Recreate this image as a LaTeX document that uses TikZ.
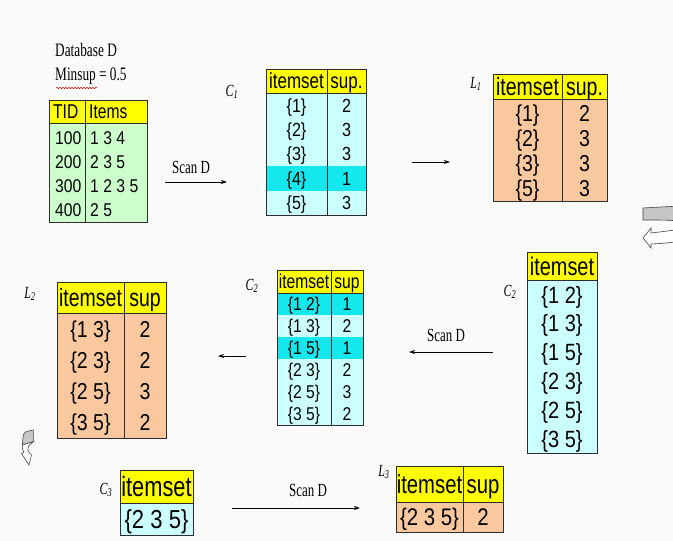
\documentclass[tikz,border=0pt]{standalone}
\usepackage{fontspec}
\setmainfont{Liberation Serif}
\newfontfamily\tsans[FakeStretch=0.85]{Liberation Sans}
\newfontfamily\tsansh[FakeStretch=0.78]{Liberation Sans}
\newfontfamily\tserif[FakeStretch=0.7]{Liberation Serif}
\usetikzlibrary{arrows.meta,decorations.pathmorphing}
\definecolor{bg}{RGB}{250,250,250}
\definecolor{yel}{RGB}{255,255,0}
\definecolor{grn}{RGB}{204,255,204}
\definecolor{lcy}{RGB}{204,255,255}
\definecolor{hcy}{RGB}{20,232,236}
\definecolor{org}{RGB}{250,200,158}
\definecolor{bord}{RGB}{45,45,45}
\tikzset{
  tb/.style={draw=bord, line width=0.8pt},
  arr/.style={line width=0.8pt, -{Stealth[length=6pt,width=4pt]}},
  scanlbl/.style={inner sep=0pt, font=\tserif\fontsize{18.5}{18.5}\selectfont},
  setlbl/.style={inner sep=0pt, font=\tserif\fontsize{17}{17}\selectfont\itshape},
  blockgray/.style={fill=gray!45, draw=gray!55!black, line width=0.6pt},
  blockwhite/.style={fill=white, draw=gray!55!black, line width=0.6pt}
}
% body cell text: #1 anchor, #2 name, #3 x, #4 y (visual centre), #5 size, #6 text
\newcommand\ct[6][base]{\node[anchor=#1,inner sep=0pt,font=\tsans\fontsize{#5}{#5}\selectfont] (#2) at (#3,{#4+0.358*#5}) {#6};}
% header cell text (taller, narrower)
\newcommand\ch[6][base]{\node[anchor=#1,inner sep=0pt,font=\tsansh\fontsize{#5}{#5}\selectfont] (#2) at (#3,{#4+0.358*#5}) {#6};}
\begin{document}
\begin{tikzpicture}[x=1pt,y=-1pt]
\useasboundingbox (0,0) rectangle (673,541);
\clip (0,0) rectangle (673,541);
\fill[bg] (0,0) rectangle (673,541);

% ---- Database D
\node[anchor=west, inner sep=0pt, font=\tserif\fontsize{19}{19}\selectfont] (dbname) at (55,50) {Database D};
\node[anchor=west, inner sep=0pt, font=\tserif\fontsize{19}{19}\selectfont] (minsup) at (55,76) {Minsup = 0.5};
\draw[red!80!black, line width=0.5pt, decorate, decoration={snake, segment length=3pt, amplitude=0.7pt}] (56,88) -- (97,88);

\fill[grn] (49,123) rectangle (147,222);
\fill[yel] (49,100) rectangle (147,123);
\draw[tb] (49,100) rectangle (147,222) (49,123) -- (147,123) (85,100) -- (85,222);
\ch[base west]{tdh1}{53}{111.5}{20}{TID}
\ch[base west]{tdh2}{89}{111.5}{20}{Items}
\ct[base west]{td1a}{55}{138}{18.5}{100}
\ct[base west]{td1b}{90}{138}{18.5}{1 3 4}
\ct[base west]{td2a}{55}{162}{18.5}{200}
\ct[base west]{td2b}{90}{162}{18.5}{2 3 5}
\ct[base west]{td3a}{55}{186}{18.5}{300}
\ct[base west]{td3b}{90}{186}{18.5}{1 2 3 5}
\ct[base west]{td4a}{55}{210}{18.5}{400}
\ct[base west]{td4b}{90}{210}{18.5}{2 5}

% ---- arrow Scan D 1
\coordinate (a1s) at (165,182);
\coordinate (a1e) at (227,182);
\draw[arr] (a1s) -- (a1e);
\node[scanlbl] (scan1) at (191,167) {Scan D};

% ---- C1
\node[setlbl] (lc1) at (232,92) {C\textsubscript{1}};
\fill[lcy] (266,93) rectangle (366,215);
\fill[hcy] (266,166.2) rectangle (366,190.6);
\fill[yel] (266,69) rectangle (366,93);
\draw[tb] (266,69) rectangle (366,215) (266,93) -- (366,93) (327,69) -- (327,215);
\ch{c1h1}{296.5}{81}{21.8}{itemset}
\ch{c1h2}{346.5}{81}{21.8}{sup.}
\ct{c1r1a}{296.5}{105.2}{19}{\{1\}}
\ct{c1r1b}{346.5}{105.2}{19}{2}
\ct{c1r2a}{296.5}{129.6}{19}{\{2\}}
\ct{c1r2b}{346.5}{129.6}{19}{3}
\ct{c1r3a}{296.5}{154}{19}{\{3\}}
\ct{c1r3b}{346.5}{154}{19}{3}
\ct{c1r4a}{296.5}{178.4}{19}{\{4\}}
\ct{c1r4b}{346.5}{178.4}{19}{1}
\ct{c1r5a}{296.5}{202.8}{19}{\{5\}}
\ct{c1r5b}{346.5}{202.8}{19}{3}

% ---- arrow C1 -> L1
\coordinate (a2s) at (412,162);
\coordinate (a2e) at (450,162);
\draw[arr] (a2s) -- (a2e);

% ---- L1
\node[setlbl] (ll1) at (476,84) {L\textsubscript{1}};
\fill[org] (493,99) rectangle (607,201);
\fill[yel] (493,74) rectangle (607,99);
\draw[tb] (493,74) rectangle (607,201) (493,99) -- (607,99) (562,74) -- (562,201);
\ch{l1h1}{527.5}{86.5}{25}{itemset}
\ch{l1h2}{584.5}{86.5}{25}{sup.}
\ct{l1r1a}{527.5}{113}{23}{\{1\}}
\ct{l1r1b}{584.5}{113}{23}{2}
\ct{l1r2a}{527.5}{138}{23}{\{2\}}
\ct{l1r2b}{584.5}{138}{23}{3}
\ct{l1r3a}{527.5}{163}{23}{\{3\}}
\ct{l1r3b}{584.5}{163}{23}{3}
\ct{l1r4a}{527.5}{188}{23}{\{5\}}
\ct{l1r4b}{584.5}{188}{23}{3}

% ---- U-turn block arrow (right edge)
\path[blockgray] (643,208) -- (680,206) -- (680,221) .. controls (665,220) .. (643,220) -- cycle;
\path[blockwhite] (680,229) .. controls (668,231) .. (651,233) -- (651,228) -- (643,238) -- (651,248) -- (651,244) .. controls (668,243) .. (680,241) -- cycle;

% ---- C2 (right)
\node[setlbl] (lc2r) at (510,292) {C\textsubscript{2}};
\fill[lcy] (527,280) rectangle (597,453);
\fill[yel] (527,252) rectangle (597,280);
\draw[tb] (527,252) rectangle (597,453) (527,280) -- (597,280);
\ch{c2rh}{562}{266}{25.5}{itemset}
\ct{c2r1}{562}{295}{23.5}{\{1 2\}}
\ct{c2r2}{562}{323.5}{23.5}{\{1 3\}}
\ct{c2r3}{562}{352.3}{23.5}{\{1 5\}}
\ct{c2r4}{562}{381}{23.5}{\{2 3\}}
\ct{c2r5}{562}{409.8}{23.5}{\{2 5\}}
\ct{c2r6}{562}{438.6}{23.5}{\{3 5\}}

% ---- arrow Scan D 2
\coordinate (a3s) at (493,352);
\coordinate (a3e) at (409,352);
\draw[arr] (a3s) -- (a3e);
\node[scanlbl] (scan2) at (446,335) {Scan D};

% ---- C2 (middle)
\node[setlbl] (lc2m) at (252,286) {C\textsubscript{2}};
\fill[lcy] (277,293) rectangle (363,425);
\fill[hcy] (277,293) rectangle (363,315);
\fill[hcy] (277,337) rectangle (363,359);
\fill[yel] (277,270) rectangle (363,293);
\draw[tb] (277,270) rectangle (363,425) (277,293) -- (363,293) (331,270) -- (331,425);
\ch{c2mh1}{304}{281.5}{20}{itemset}
\ch{c2mh2}{347}{281.5}{20}{sup}
\ct{c2m1a}{304}{304}{18.5}{\{1 2\}}
\ct{c2m1b}{347}{304}{18.5}{1}
\ct{c2m2a}{304}{326}{18.5}{\{1 3\}}
\ct{c2m2b}{347}{326}{18.5}{2}
\ct{c2m3a}{304}{348}{18.5}{\{1 5\}}
\ct{c2m3b}{347}{348}{18.5}{1}
\ct{c2m4a}{304}{370}{18.5}{\{2 3\}}
\ct{c2m4b}{347}{370}{18.5}{2}
\ct{c2m5a}{304}{392}{18.5}{\{2 5\}}
\ct{c2m5b}{347}{392}{18.5}{3}
\ct{c2m6a}{304}{414}{18.5}{\{3 5\}}
\ct{c2m6b}{347}{414}{18.5}{2}

% ---- arrow C2 -> L2
\coordinate (a4s) at (246,356);
\coordinate (a4e) at (218,356);
\draw[arr] (a4s) -- (a4e);

% ---- L2
\node[setlbl] (ll2) at (30,294) {L\textsubscript{2}};
\fill[org] (57,313) rectangle (166,438);
\fill[yel] (57,282) rectangle (166,313);
\draw[tb] (57,282) rectangle (166,438) (57,313) -- (166,313) (124,282) -- (124,438);
\ch{l2h1}{90.5}{297.5}{25}{itemset}
\ch{l2h2}{145}{297.5}{25}{sup}
\ct{l2r1a}{90.5}{329.5}{23}{\{1 3\}}
\ct{l2r1b}{145}{329.5}{23}{2}
\ct{l2r2a}{90.5}{360.5}{23}{\{2 3\}}
\ct{l2r2b}{145}{360.5}{23}{2}
\ct{l2r3a}{90.5}{391.5}{23}{\{2 5\}}
\ct{l2r3b}{145}{391.5}{23}{3}
\ct{l2r4a}{90.5}{422.4}{23}{\{3 5\}}
\ct{l2r4b}{145}{422.4}{23}{2}

% ---- small curved block arrow (left)
\path[blockgray] (22.3,445) -- (23.3,435) .. controls (24,432) .. (33.3,430) -- (33.3,441.7) .. controls (28,443) .. (22.3,445) -- cycle;
\path[blockwhite] (22.3,445) .. controls (22.5,450) .. (24,452) -- (21.5,453.5) -- (29,465) -- (31.5,455) -- (28,451) .. controls (28,446) .. (33.3,441.7) .. controls (28,443) .. (22.3,445) -- cycle;

% ---- C3
\node[setlbl] (lc3) at (106,490) {C\textsubscript{3}};
\fill[lcy] (120,503) rectangle (193,535);
\fill[yel] (120,470) rectangle (193,503);
\draw[tb] (120,470) rectangle (193,535) (120,503) -- (193,503);
\ch{c3h}{156.5}{486.5}{28}{itemset}
\ct{c3r1}{156.5}{519}{26}{\{2 3 5\}}

% ---- arrow Scan D 3
\coordinate (a5s) at (232,508);
\coordinate (a5e) at (360,508);
\draw[arr] (a5s) -- (a5e);
\node[scanlbl] (scan3) at (308,490) {Scan D};

% ---- L3
\node[setlbl] (ll3) at (384,472) {L\textsubscript{3}};
\fill[org] (396,502) rectangle (503,532);
\fill[yel] (396,466) rectangle (503,502);
\draw[tb] (396,466) rectangle (503,532) (396,502) -- (503,502) (463,466) -- (463,532);
\ch{l3h1}{429.5}{484}{26}{itemset}
\ch{l3h2}{483}{484}{26}{sup}
\ct{l3r1a}{429.5}{517}{24}{\{2 3 5\}}
\ct{l3r1b}{483}{517}{24}{2}
\end{tikzpicture}
\end{document}
